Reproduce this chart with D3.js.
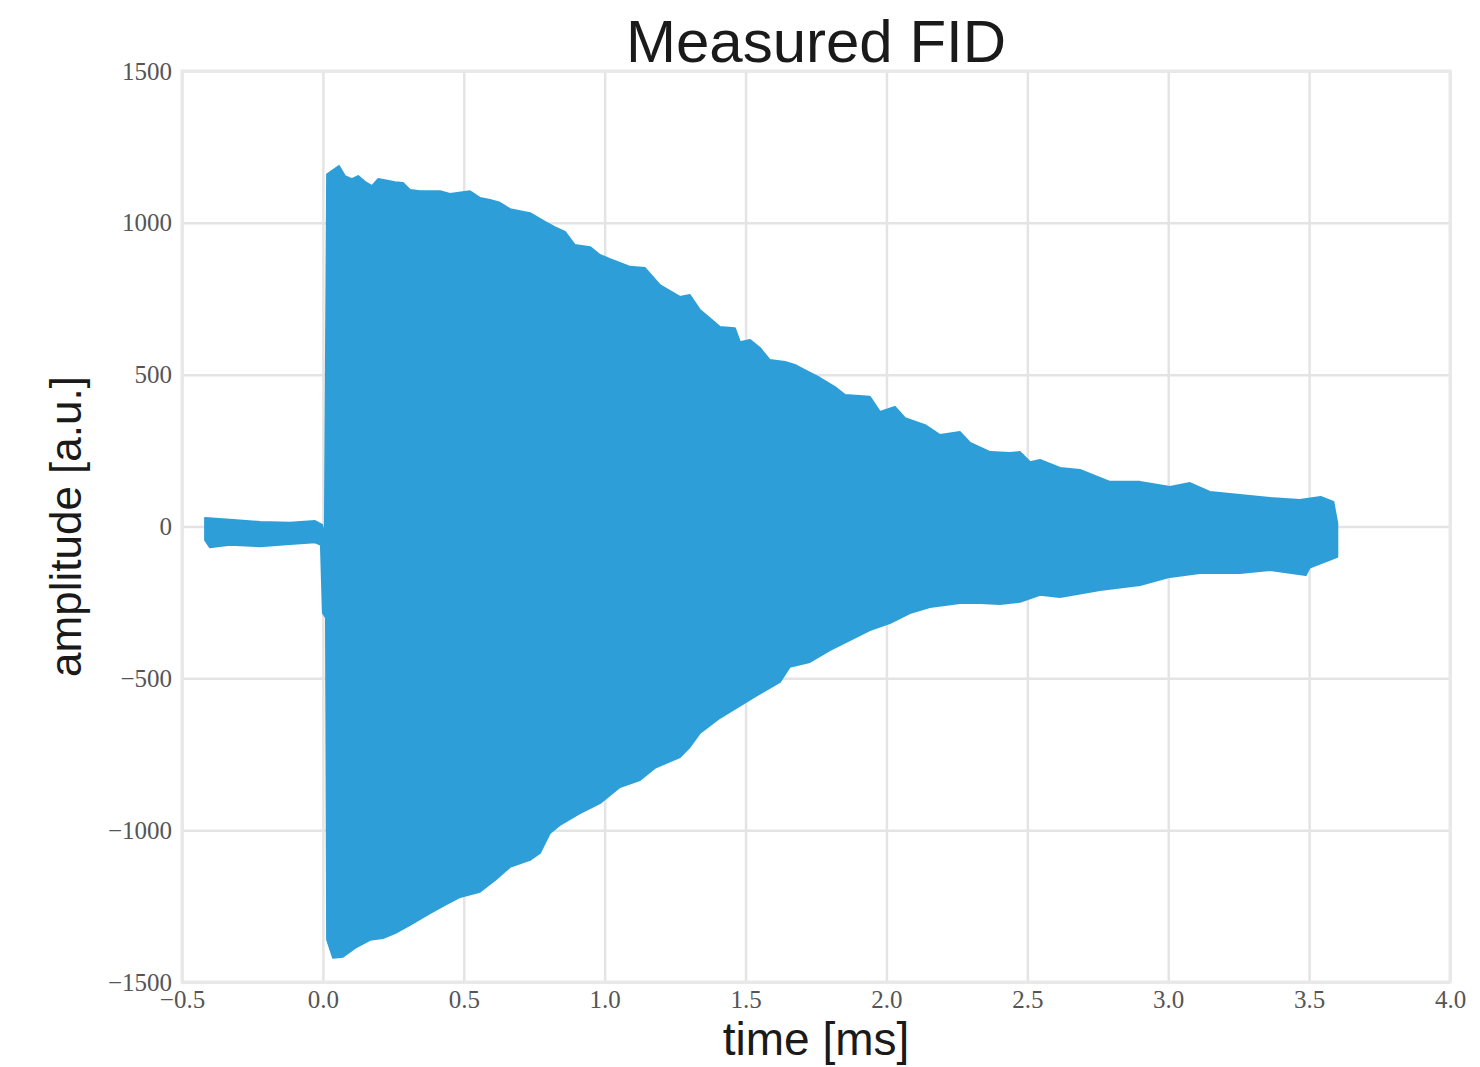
<!DOCTYPE html>
<html>
<head>
<meta charset="utf-8">
<script src="https://cdn.jsdelivr.net/npm/d3@7"></script>
<style>
  body { margin: 0; background: #fff; }
</style>
</head>
<body>
<script>
// Envelope of the measured FID (time in ms, amplitude in a.u.)
const upperTime = [-0.418, -0.330, -0.223, -0.117, -0.028, -0.003, 0.007, 0.015, 0.057, 0.078, 0.103, 0.125, 0.149, 0.174, 0.196, 0.256, 0.284, 0.309, 0.345, 0.416, 0.451, 0.522, 0.557, 0.593, 0.628, 0.664, 0.735, 0.788, 0.824, 0.859, 0.894, 0.948, 0.983, 1.019, 1.054, 1.090, 1.143, 1.196, 1.232, 1.267, 1.302, 1.338, 1.373, 1.409, 1.462, 1.480, 1.516, 1.551, 1.586, 1.640, 1.675, 1.710, 1.764, 1.817, 1.853, 1.941, 1.977, 2.030, 2.066, 2.137, 2.190, 2.261, 2.297, 2.368, 2.439, 2.474, 2.510, 2.545, 2.616, 2.687, 2.793, 2.900, 3.006, 3.077, 3.148, 3.254, 3.361, 3.467, 3.541, 3.586, 3.600];
const upperValue = [28, 22, 15, 12, 18, 5, -30, 1160, 1187, 1154, 1144, 1154, 1135, 1121, 1144, 1134, 1131, 1108, 1104, 1104, 1095, 1104, 1082, 1075, 1066, 1045, 1032, 1003, 985, 970, 927, 920, 894, 880, 868, 855, 851, 795, 775, 756, 762, 713, 686, 657, 653, 607, 614, 588, 548, 542, 532, 515, 489, 459, 433, 427, 377, 394, 357, 334, 301, 311, 275, 245, 242, 245, 212, 219, 193, 186, 147, 147, 130, 143, 114, 104, 94, 87, 97, 81, 10];

const lowerTime = [-0.418, -0.401, -0.330, -0.223, -0.117, -0.028, -0.007, 0.000, 0.011, 0.015, 0.036, 0.071, 0.114, 0.167, 0.213, 0.256, 0.309, 0.380, 0.433, 0.487, 0.557, 0.611, 0.628, 0.664, 0.735, 0.770, 0.806, 0.841, 0.912, 0.983, 1.054, 1.125, 1.178, 1.267, 1.302, 1.338, 1.409, 1.480, 1.551, 1.622, 1.657, 1.728, 1.799, 1.870, 1.941, 2.012, 2.083, 2.154, 2.261, 2.332, 2.403, 2.474, 2.545, 2.616, 2.758, 2.900, 3.006, 3.112, 3.254, 3.361, 3.488, 3.502, 3.573, 3.600];
const lowerValue = [-45, -68, -60, -65, -58, -52, -60, -285, -300, -1361, -1420, -1417, -1388, -1361, -1355, -1339, -1312, -1273, -1246, -1220, -1203, -1164, -1150, -1121, -1098, -1075, -1009, -983, -944, -911, -858, -835, -795, -759, -726, -680, -630, -590, -550, -512, -462, -446, -407, -374, -341, -318, -285, -265, -252, -252, -255, -248, -225, -232, -209, -193, -166, -153, -153, -143, -160, -135, -110, -100];

const xTicks = [-0.5, 0.0, 0.5, 1.0, 1.5, 2.0, 2.5, 3.0, 3.5, 4.0];
const yTicks = [-1500, -1000, -500, 0, 500, 1000, 1500];

const width = 1480;
const height = 1067;
const margin = { top: 71, right: 30, bottom: 85, left: 182 };
const innerW = width - margin.left - margin.right;
const innerH = height - margin.top - margin.bottom;

const svg = d3.select('body').append('svg')
  .attr('width', width)
  .attr('height', height);

const x = d3.scaleLinear().domain([-0.5, 4.0]).range([margin.left, margin.left + innerW]);
const y = d3.scaleLinear().domain([-1500, 1500]).range([margin.top + innerH, margin.top]);

// grid + tick labels
const xAxis = svg.append('g')
  .attr('transform', `translate(0,${margin.top + innerH})`)
  .call(d3.axisBottom(x).tickValues(xTicks).tickFormat(d3.format('.1f')).tickSize(-innerH).tickPadding(8));

const yAxis = svg.append('g')
  .attr('transform', `translate(${margin.left},0)`)
  .call(d3.axisLeft(y).tickValues(yTicks).tickFormat(d3.format('d')).tickSize(-innerW).tickPadding(10));

[xAxis, yAxis].forEach(g => {
  g.select('.domain').remove();
  g.selectAll('.tick line').attr('stroke', '#e4e4e4').attr('stroke-width', 2.5);
  g.selectAll('.tick text')
    .attr('fill', '#555')
    .style('font-family', '"Liberation Serif", "DejaVu Serif", serif')
    .style('font-size', '25px');
});

// frame
svg.append('rect')
  .attr('x', margin.left).attr('y', margin.top)
  .attr('width', innerW).attr('height', innerH)
  .attr('fill', 'none')
  .attr('stroke', '#e8e8e8')
  .attr('stroke-width', 3);

// signal band: upper edge forward, lower edge back
const upperPts = upperTime.map((t, i) => [t, upperValue[i]]);
const lowerPts = lowerTime.map((t, i) => [t, lowerValue[i]]).reverse();

const edge = d3.line()
  .x(d => x(d[0]))
  .y(d => y(d[1]));

svg.append('path')
  .attr('d', edge(upperPts) + 'L' + edge(lowerPts).slice(1) + 'Z')
  .attr('fill', '#2e9ed8')
  .attr('stroke', '#2e9ed8')
  .attr('stroke-width', 2)
  .attr('stroke-linejoin', 'round');

// title and axis labels
svg.append('text')
  .attr('x', margin.left + innerW / 2)
  .attr('y', 62)
  .attr('text-anchor', 'middle')
  .style('font-family', '"Liberation Sans", Arial, sans-serif')
  .style('font-size', '60px')
  .attr('fill', '#1a1a1a')
  .text('Measured FID');

svg.append('text')
  .attr('x', margin.left + innerW / 2)
  .attr('y', 1055)
  .attr('text-anchor', 'middle')
  .style('font-family', '"Liberation Sans", Arial, sans-serif')
  .style('font-size', '46px')
  .attr('fill', '#1a1a1a')
  .text('time [ms]');

svg.append('text')
  .attr('transform', `translate(81,${margin.top + innerH / 2}) rotate(-90)`)
  .attr('text-anchor', 'middle')
  .style('font-family', '"Liberation Sans", Arial, sans-serif')
  .style('font-size', '44px')
  .attr('fill', '#1a1a1a')
  .text('amplitude [a.u.]');
</script>
</body>
</html>
